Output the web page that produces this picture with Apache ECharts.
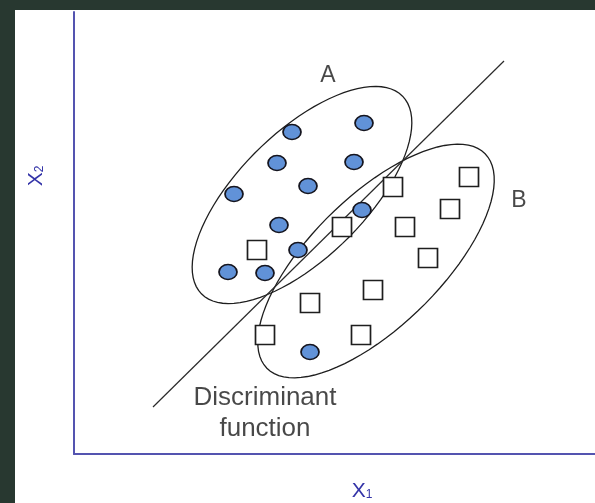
<!DOCTYPE html>
<html>
<head>
<meta charset="utf-8">
<script src="https://cdn.jsdelivr.net/npm/echarts@6/dist/echarts.min.js"></script>
<style>
    html, body { margin: 0; padding: 0; background: #283830; }
    #main { position: absolute; left: 15px; top: 10px; width: 580px; height: 493px; background: #ffffff; }
</style>
</head>
<body>
<div id="main"></div>
<script>
// group A: blue dots [x1, x2]
var groupA = [
    [218, 322], [290, 331], [203, 291], [280, 292], [234, 268], [160, 260],
    [205, 229], [288, 244], [224, 204], [154, 182], [191, 181], [236, 102]
];
// group B: squares [x1, x2]
var groupB = [
    [183, 204], [319, 267], [268, 227], [331, 227], [299, 164], [395, 277],
    [376, 245], [354, 196], [236, 151], [191, 119], [287, 119]
];
// discriminant function, two end points
var discriminant = [[79, 47], [430, 393]];
// group outlines: [centerX, centerY, semiMajor, semiMinor, angleDeg]
var outlines = [
    [228, 259, 141, 63, 44.5],
    [302, 193, 153, 65, 44.5]
];
// text notes
var notes = [
    {name: 'A', value: [254, 378], size: 23},
    {name: 'B', value: [445, 253], size: 23},
    {name: 'Discriminant\nfunction', value: [191, 41], size: 26}
];

/**
 * 椭圆轮廓
 */
function renderOutline(params, api){
    var cx = api.value(0), cy = api.value(1);
    var a = api.value(2), b = api.value(3);
    var ang = api.value(4) * Math.PI / 180;
    var pts = [];
    for(var i=0;i<=90;i++){
        var t = i / 90 * Math.PI * 2;
        var dx = a * Math.cos(t), dy = b * Math.sin(t);
        pts.push(api.coord([
            cx + dx * Math.cos(ang) - dy * Math.sin(ang),
            cy + dx * Math.sin(ang) + dy * Math.cos(ang)
        ]));
    }
    return {
        type: 'polygon',
        shape: {points: pts},
        style: {fill: 'none', stroke: '#1e1e1e', lineWidth: 1.3}
    };
}

var axisColor = '#5454b0';
var chart = echarts.init(document.getElementById('main'));
var option = {
    animation: false,
    textStyle: {fontFamily: 'Liberation Sans, Arial, sans-serif'},
    grid: {left: 59, top: 2, right: 0, bottom: 49},
    xAxis: {
        type: 'value', min: 0, max: 521,
        axisLine: {show: true, onZero: false, lineStyle: {color: axisColor, width: 2}},
        axisTick: {show: false}, axisLabel: {show: false}, splitLine: {show: false}
    },
    yAxis: {
        type: 'value', min: 0, max: 442,
        axisLine: {show: true, onZero: false, lineStyle: {color: axisColor, width: 2}},
        axisTick: {show: false}, axisLabel: {show: false}, splitLine: {show: false}
    },
    graphic: [
        {
            type: 'text', x: 347, y: 481,
            style: {
                text: '{a|X}{b|1}', align: 'center', verticalAlign: 'middle',
                rich: {
                    a: {fontSize: 21, fill: '#3434a8', fontFamily: 'Liberation Sans'},
                    b: {fontSize: 12, fill: '#3434a8', fontFamily: 'Liberation Sans', padding: [8, 0, 0, 0]}
                }
            }
        },
        {
            type: 'text', x: 21, y: 166, rotation: Math.PI / 2,
            style: {
                text: '{a|X}{b|2}', align: 'center', verticalAlign: 'middle',
                rich: {
                    a: {fontSize: 21, fill: '#3434a8', fontFamily: 'Liberation Sans'},
                    b: {fontSize: 12, fill: '#3434a8', fontFamily: 'Liberation Sans', padding: [8, 0, 0, 0]}
                }
            }
        }
    ],
    series: [
        {
            type: 'custom',
            renderItem: renderOutline,
            data: outlines,
            clip: false,
            z: 1
        },
        {
            type: 'line',
            data: discriminant,
            symbol: 'none',
            lineStyle: {color: '#2a2a2a', width: 1.2},
            z: 1
        },
        {
            type: 'scatter',
            data: groupA,
            symbol: 'circle',
            symbolSize: [18, 15],
            itemStyle: {color: '#6192d8', borderColor: '#15151f', borderWidth: 1.6, opacity: 1},
            z: 3
        },
        {
            type: 'scatter',
            data: groupB,
            symbol: 'rect',
            symbolSize: 19,
            itemStyle: {color: '#ffffff', borderColor: '#1e1e1e', borderWidth: 1.7, opacity: 1},
            z: 3
        },
        {
            type: 'scatter',
            data: notes.map(function(n){
                return {name: n.name, value: n.value, label: {fontSize: n.size}};
            }),
            symbolSize: 0,
            label: {
                show: true, position: 'inside', formatter: '{b}',
                color: '#1a1a1a', lineHeight: 31, fontFamily: 'Liberation Sans'
            },
            z: 4
        }
    ]
};
chart.setOption(option);
</script>
</body>
</html>
